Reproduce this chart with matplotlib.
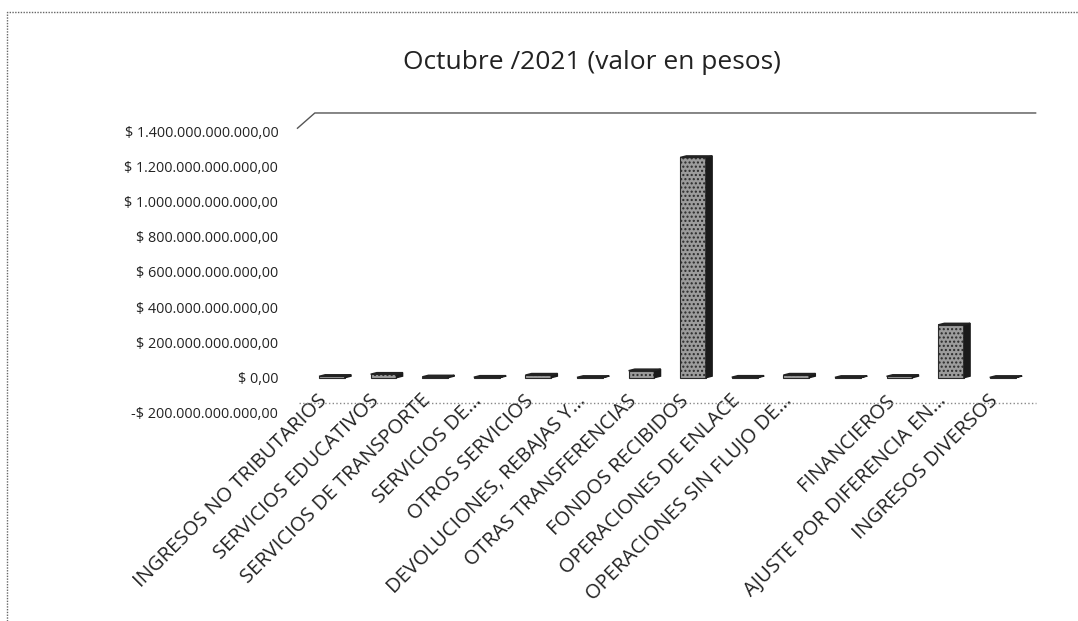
import numpy as np
import matplotlib.pyplot as plt
import matplotlib.transforms as mtransforms
from matplotlib.patches import Polygon
from matplotlib.lines import Line2D
from matplotlib.ticker import FuncFormatter

plt.rcParams['font.family'] = ['Open Sans', 'DejaVu Sans']
plt.rcParams['hatch.color'] = "#555555"

# Data (valor en pesos) - one category has no label in the original
categories = ["INGRESOS NO TRIBUTARIOS", "SERVICIOS EDUCATIVOS", "SERVICIOS DE TRANSPORTE",
              "SERVICIOS DE...", "OTROS SERVICIOS", "DEVOLUCIONES, REBAJAS Y...",
              "OTRAS TRANSFERENCIAS", "FONDOS RECIBIDOS", "OPERACIONES DE ENLACE",
              "OPERACIONES SIN FLUJO DE...", "", "FINANCIEROS",
              "AJUSTE POR DIFERENCIA EN...", "INGRESOS DIVERSOS"]
values = [8e9, 20e9, 5e9, 3e9, 15e9, 2e9, 40e9, 1250e9, 3e9, 15e9, 2e9, 8e9, 300e9, 2e9]
y_ticks = np.arange(-200e9, 1400e9 + 1, 200e9)


def peso(v, pos):
    s = f"{abs(v):,.2f}".replace(",", "X").replace(".", ",").replace("X", ".")
    return ("-$ " if v < 0 else "$ ") + s


fig = plt.figure(figsize=(10.78, 6.21), dpi=100)
ax = fig.add_axes([0.284, 0.335, 0.670, 0.454])

x = np.arange(len(values))
w = 0.5
ax.bar(x, values, width=w, color="#9c9c9c", edgecolor="#2a2a2a", linewidth=0.8,
       hatch="....", zorder=3)

# 3D side and top faces
dx, dy = 0.12, 9e9
for xi, v in zip(x, values):
    side = Polygon([(xi + w / 2, 0), (xi + w / 2, v), (xi + w / 2 + dx, v + dy),
                    (xi + w / 2 + dx, dy)], closed=True, facecolor="#1a1a1a",
                   edgecolor="#1a1a1a", zorder=3)
    top = Polygon([(xi - w / 2, v), (xi + w / 2, v), (xi + w / 2 + dx, v + dy),
                   (xi - w / 2 + dx, v + dy)], closed=True, facecolor="#222222",
                  edgecolor="#222222", zorder=4)
    ax.add_patch(side)
    ax.add_patch(top)

ax.set_xlim(-0.5, len(values) - 0.5)
ax.set_ylim(-200e9, 1400e9)
ax.set_yticks(y_ticks)
ax.yaxis.set_major_formatter(FuncFormatter(peso))
ax.tick_params(axis="y", length=0, pad=20, labelsize=10.4, labelcolor="#222222")
ax.set_xticks(x)
ax.set_xticklabels(categories, rotation=45, ha="right", rotation_mode="anchor",
                   fontsize=14.5, color="#222222")
ax.tick_params(axis="x", length=0, pad=-16)
shift = mtransforms.ScaledTranslation(-10.5 / 72, 0, fig.dpi_scale_trans)
for lbl in ax.get_xticklabels():
    lbl.set_transform(lbl.get_transform() + shift)
for sp in ax.spines.values():
    sp.set_visible(False)

# back wall top edge and floor edge
ax.add_line(Line2D([-0.012, 0.012, 1.01], [1.01, 1.064, 1.064], transform=ax.transAxes,
                   color="#555555", linewidth=1.0, clip_on=False))
ax.add_line(Line2D([-0.01, 1.01], [0.035, 0.035], transform=ax.transAxes,
                   color="#888888", linewidth=1.0, linestyle=":", clip_on=False))

fig.text(0.549, 0.9, "Octubre /2021 (valor en pesos)", ha="center", va="center",
         fontsize=19, color="#222222")

# outer frame (left and top edges)
fig.add_artist(Line2D([0.0065, 0.0065, 1.0], [0.0, 0.98, 0.98], transform=fig.transFigure,
                      color="#666666", linewidth=1.0, linestyle=(0, (1, 1))))

fig.savefig("out.png", dpi=100)
